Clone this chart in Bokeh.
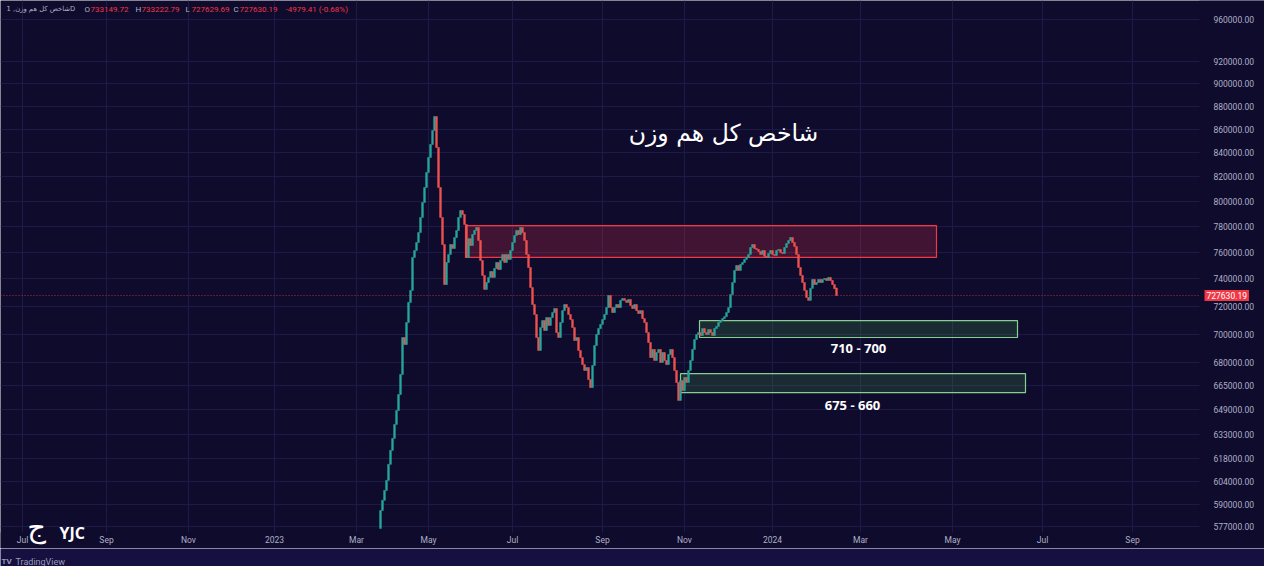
from bokeh.plotting import figure
from bokeh.models import Range1d, FixedTicker, NumeralTickFormatter, Label
from bokeh.layouts import column
from bokeh.embed import file_html
from bokeh.resources import INLINE

# ---------------- data ----------------
symbol = "شاخص کل هم وزن"
interval = "1D"
prev_close = 575900.0
last_ohlc = [733149.72, 733222.79, 727629.69, 727630.19]
change_text = "-4979.41 (-0.68%)"

closes = [
    586400, 592400, 598300, 604400, 614200, 622900, 630400, 639300, 648300, 658800,
    672200, 697600, 692700, 708200, 722600, 731400, 756000, 761300, 767400, 775100,
    787000, 798900, 811000, 823300, 835800, 846800, 858700, 870900, 844200, 811000,
    787000, 765900, 735700, 752200, 758300, 765900, 762800, 771200, 776700, 787000,
    792500, 789300, 781400, 756000, 770400, 765100, 773600, 776700, 779100, 769000,
    753700, 742500, 732100, 737200, 741000, 745400, 741000, 747700, 752200, 746900,
    753700, 758300, 752200, 758300, 754500, 761300, 767400, 772800, 776700, 773600,
    779100, 775100, 769000, 758300, 748400, 733500, 721100, 713900, 697600, 688600,
    704600, 709600, 702500, 711700, 706100, 711700, 715300, 718200, 701100, 697600,
    708200, 716700, 721100, 718900, 713900, 710300, 704600, 695500, 697600, 688600,
    683700, 678900, 674900, 676900, 668800, 663400, 678300, 692000, 699700, 703900,
    706800, 710300, 713900, 718900, 727700, 718900, 715300, 718900, 721100, 718900,
    724100, 725500, 724100, 722600, 724800, 720400, 718200, 721100, 716700, 714600,
    716700, 711000, 708200, 701100, 694100, 683700, 689300, 681700, 687200, 689300,
    680300, 687200, 681700, 678900, 685800, 689300, 683700, 674900, 666800, 654900,
    668100, 661400, 670200, 666800, 674900, 681700, 689300, 696200, 699700, 701100,
    699000, 703900, 701100, 699700, 703200, 701100, 699000, 703900, 705400, 708200,
    709600, 711000, 712400, 715300, 718900, 728400, 737200, 746200, 749900, 746200,
    750700, 752200, 754500, 756000, 758300, 763600, 765900, 762800, 762100, 760600,
    758300, 761300, 756800, 756000, 759000, 761300, 758300, 757500, 761300, 762100,
    759800, 759000, 763600, 766600, 769000, 771300, 767400, 764400, 758300, 748400,
    742500, 737200, 731400, 726200, 724100, 732900, 739500, 735700, 737200, 739500,
    737200, 739500, 740200, 738700, 741000, 738700, 735700, 732609.60, 727630.19,
]

price_ticks = [577000, 590000, 604000, 618000, 633000, 649000, 665000, 680000,
               700000, 720000, 740000, 760000, 780000, 800000, 820000, 840000,
               860000, 880000, 900000, 920000, 960000]

month_labels = ["Jul", "Sep", "Nov", "2023", "Mar", "May", "Jul", "Sep", "Nov",
                "2024", "Mar", "May", "Jul", "Sep"]
month_start_bar = [-179, -137, -96, -53, -12, 24, 66, 111, 152, 196, 240, 286, 331, 376]

zone_left = [42.5, 159.5, 150.0]
zone_right = [278.0, 318.5, 322.5]
zone_top = [780500, 709600, 672800]
zone_bottom = [756000, 697600, 660100]
zone_kind = ["resistance", "support", "support"]
zone_text = ["", "710 - 700", "675 - 660"]
zone_text_bar = [0, 239, 236]
zone_text_price = [0, 690000, 652200]

# ---------------- derived ----------------
n = len(closes)
idx = list(range(n))
opens = [prev_close] + closes[:-1]
opens[-1] = last_ohlc[0]
tops = [max(o, c) for o, c in zip(opens, closes)]
bots = [min(o, c) for o, c in zip(opens, closes)]
UP, DOWN = "#26a69a", "#ef5350"
cols = [UP if c >= o else DOWN for o, c in zip(opens, closes)]

BG = "#0f0b2d"
OUTER = "#161041"
TXT = "#aeb0c6"

# view: the frame covers the whole pane; the scales sit at fixed positions inside it
X0, X1 = -190, 442          # bar-index extent of the pane
SCALE_X = 409.5             # price scale edge (bar units)
Y0, Y1 = 564430, 978490     # price extent of the pane
TIME_Y = 573570             # time scale edge (price units)

p = figure(width=1264, height=548, y_axis_type="log", y_axis_location="right",
           x_range=Range1d(X0, X1), y_range=Range1d(Y0, Y1),
           toolbar_location=None, output_backend="svg", min_border=0)
p.background_fill_color = BG
p.border_fill_color = BG
p.outline_line_color = None

# axes
p.yaxis.ticker = FixedTicker(ticks=price_ticks)
p.yaxis.formatter = NumeralTickFormatter(format="0.00")
p.yaxis.fixed_location = SCALE_X
p.xaxis.ticker = FixedTicker(ticks=month_start_bar)
p.xaxis.major_label_overrides = {t: l for t, l in zip(month_start_bar, month_labels)}
p.xaxis.fixed_location = TIME_Y
for axes in (p.xaxis, p.yaxis):
    axes.axis_line_color = None
    axes.major_tick_line_color = None
    axes.minor_tick_line_color = None
    axes.major_tick_out = 0
    axes.major_tick_in = 0
    axes.major_label_text_color = TXT
    axes.major_label_text_font = "Roboto"
    axes.major_label_text_font_size = "8.5px"
p.yaxis.major_label_standoff = 14
p.xaxis.major_label_standoff = 2
p.xgrid.grid_line_color = "#1e1a48"
p.ygrid.grid_line_color = "#1e1a48"

# scale panels (hide grid lines under the scales)
p.quad(left=SCALE_X, right=X1, top=Y1, bottom=Y0, fill_color=BG, line_color=None)
p.quad(left=X0, right=X1, top=TIME_Y, bottom=Y0, fill_color=BG, line_color=None)

# zones
for l, r, t, b, k in zip(zone_left, zone_right, zone_top, zone_bottom, zone_kind):
    if k == "resistance":
        p.quad(left=l, right=r, top=t, bottom=b, fill_color="#f23645", fill_alpha=0.22,
               line_color="#f23645", line_width=1.2)
    else:
        p.quad(left=l, right=r, top=t, bottom=b, fill_color="#4caf50", fill_alpha=0.2,
               line_color="#86d08f", line_width=1.2)

# candles
p.vbar(x=idx, top=tops, bottom=bots, width=0.85, fill_color=cols, line_color=cols, line_width=0.6)

# last price line
p.segment(x0=[X0], x1=[SCALE_X], y0=[closes[-1]], y1=[closes[-1]], line_color="#f23645",
          line_alpha=0.75, line_dash="1 2", line_width=1)

# zone texts
for t, xb, yp in zip(zone_text, zone_text_bar, zone_text_price):
    if t:
        p.add_layout(Label(x=xb, y=yp, text=t, text_color="white", text_font="Open Sans",
                           text_font_style="bold", text_font_size="13px",
                           text_align="center", text_baseline="middle"))

# title
p.add_layout(Label(x=171.5, y=857000, text=symbol, text_color="white",
                   text_font="DejaVu Sans", text_font_size="23.5px",
                   text_align="center", text_baseline="middle"))

# header
hy = 969700
p.add_layout(Label(x=-187, y=hy, text=symbol + ", " + interval, text_color=TXT,
                   text_font="DejaVu Sans", text_font_size="6.8px", text_baseline="middle"))
letters = ["O", "H", "L", "C"]
lx = [-148, -122.5, -97.5, -73.5]
for L, v, x0 in zip(letters, last_ohlc, lx):
    p.add_layout(Label(x=x0, y=hy, text=L, text_color=TXT, text_font="Roboto",
                       text_font_size="8px", text_baseline="middle"))
    p.add_layout(Label(x=x0 + 3, y=hy, text=f"{v:.2f}", text_color="#f23645",
                       text_font="Roboto", text_font_size="8px", text_baseline="middle"))
p.add_layout(Label(x=-47.5, y=hy, text=change_text, text_color="#f23645", text_font="Roboto",
                   text_font_size="8px", text_baseline="middle"))

# last price tag on the scale
p.add_layout(Label(x=412, y=closes[-1], text=f"{closes[-1]:.2f}", text_color="white",
                   text_font="Roboto", text_font_size="8.5px", text_baseline="middle",
                   background_fill_color="#f23645", padding=2))

# logo
p.add_layout(Label(x=-172, y=576500, text="ج", text_color="white", text_font="DejaVu Sans",
                   text_font_size="29px", text_align="center", text_baseline="middle"))
p.add_layout(Label(x=-160.5, y=573000, text="YJC", text_color="white", text_font="Open Sans",
                   text_font_style="bold", text_font_size="16px", text_baseline="middle"))

# footer
f = figure(width=1264, height=18, x_range=Range1d(0, 1264), y_range=Range1d(0, 18),
           toolbar_location=None, output_backend="svg", x_axis_location=None,
           y_axis_location=None, min_border=0)
f.background_fill_color = OUTER
f.border_fill_color = OUTER
f.outline_line_color = None
f.grid.visible = False
f.add_layout(Label(x=1, y=5, text="TV", text_color="#9a9cb4", text_font="Roboto",
                   text_font_style="bold", text_font_size="8px", text_baseline="middle"))
f.add_layout(Label(x=15, y=5, text="TradingView", text_color="#9a9cb4", text_font="Roboto",
                   text_font_size="9px", text_baseline="middle"))

layout = column(p, f, spacing=0)
html = file_html(layout, INLINE)
html = html.replace("<body>", '<body style="background-color:%s;">' % OUTER, 1)
open("out.html", "w").write(html)
